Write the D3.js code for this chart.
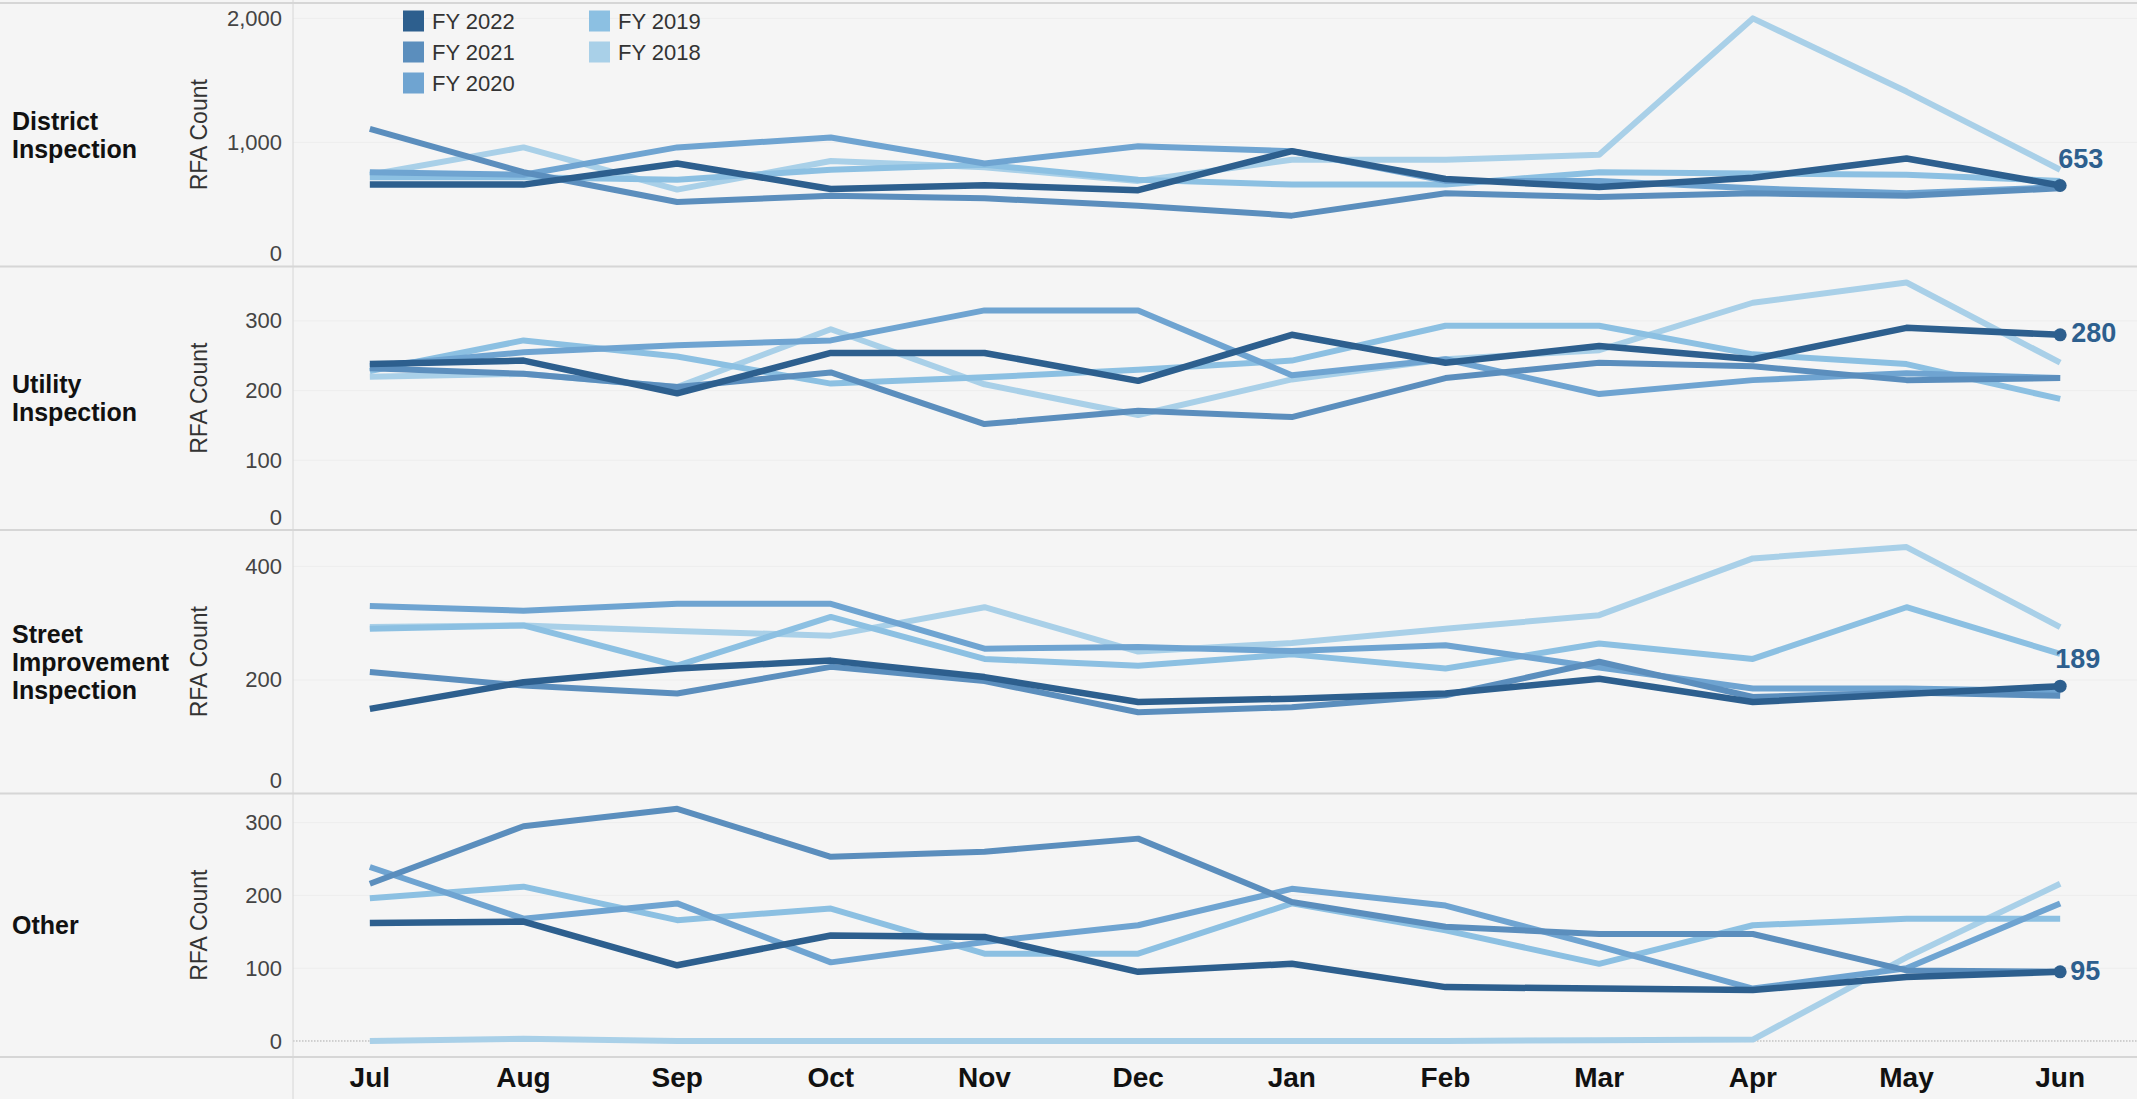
<!DOCTYPE html>
<html>
<head>
<meta charset="utf-8">
<script src="https://cdn.jsdelivr.net/npm/d3@7"></script>
<style>
body { margin: 0; background: #f5f5f5; }
svg { display: block; font-family: Arial, "Liberation Sans", sans-serif; }
</style>
</head>
<body>
<div id="chart"></div>
<script>
const width = 2137;
const height = 1099;

const months = ["Jul", "Aug", "Sep", "Oct", "Nov", "Dec", "Jan", "Feb", "Mar", "Apr", "May", "Jun"];
const years = ["FY 2022", "FY 2021", "FY 2020", "FY 2019", "FY 2018"];
const colors = ["#2d5f8e", "#5b8ebd", "#6fa4d1", "#8cc0e2", "#a9d0e8"];
const categories = [["District", "Inspection"], ["Utility", "Inspection"], ["Street", "Improvement", "Inspection"], ["Other"]];

// RFA counts, one row per fiscal year in the order of `years`
const district = [
    [660, 660, 830, 625, 655, 615, 930, 705, 640, 715, 870, 653],
    [1110, 760, 520, 570, 550, 490, 410, 590, 560, 590, 570, 630],
    [760, 740, 960, 1040, 830, 970, 930, 690, 690, 630, 590, 640],
    [720, 720, 700, 780, 820, 700, 660, 660, 760, 750, 740, 690],
    [740, 960, 620, 850, 800, 690, 860, 860, 900, 2000, 1410, 780]
];
const utility = [
    [238, 243, 196, 254, 254, 214, 280, 240, 264, 245, 290, 280],
    [232, 224, 205, 226, 152, 171, 162, 218, 240, 235, 215, 218],
    [235, 255, 265, 272, 315, 315, 222, 245, 195, 215, 225, 218],
    [228, 272, 249, 210, 219, 230, 243, 293, 293, 252, 238, 188],
    [220, 224, 205, 288, 209, 165, 216, 245, 258, 326, 355, 240]
];
const street = [
    [149, 196, 220, 234, 205, 161, 167, 176, 202, 161, 175, 189],
    [214, 190, 176, 223, 198, 143, 152, 173, 232, 170, 178, 172],
    [330, 322, 334, 334, 255, 258, 251, 261, 222, 185, 185, 180],
    [290, 296, 225, 311, 237, 225, 245, 220, 264, 237, 328, 246],
    [293, 296, 286, 278, 328, 250, 265, 290, 314, 414, 434, 293]
];
const other = [
    [162, 164, 104, 145, 143, 95, 106, 74, 72, 70, 88, 95],
    [216, 295, 319, 253, 260, 278, 191, 157, 147, 147, 97, 95],
    [239, 168, 189, 108, 136, 159, 209, 186, 130, 72, 100, 189],
    [196, 212, 166, 182, 120, 120, 189, 152, 106, 159, 168, 168],
    [0, 3, 0, 0, 0, 0, 0, 0, 1, 2, 115, 216]
];
const panelData = [district, utility, street, other];

const yDomains = [[0, 2124], [0, 378], [0, 464], [-22, 340]];
const yTicks = [[0, 1000, 2000], [0, 100, 200, 300], [0, 200, 400], [0, 100, 200, 300]];
const labelOffsets = [[-2, -27], [11, -2], [-5, -28], [10, -1]];

const paneLeft = 293;
const paneTop = 3;
const paneH = 263.5;

const svg = d3.select("#chart")
    .append("svg")
    .attr("width", width)
    .attr("height", height);

svg.append("rect")
    .attr("width", width)
    .attr("height", height)
    .attr("fill", "#f5f5f5");

const x = d3.scalePoint()
    .domain(months)
    .range([paneLeft, width])
    .padding(0.5);

const fmt = d3.format(",");

panelData.forEach((rows, p) => {
    const top = paneTop + p * paneH;
    const bottom = top + paneH;
    const y = d3.scaleLinear().domain(yDomains[p]).range([bottom, top]);
    const g = svg.append("g");

    // faint gridlines
    g.selectAll(".grid")
        .data(yTicks[p].filter(d => d > 0))
        .join("line")
        .attr("x1", paneLeft)
        .attr("x2", width)
        .attr("y1", d => y(d))
        .attr("y2", d => y(d))
        .attr("stroke", "#ededed")
        .attr("stroke-width", 1);

    if (yDomains[p][0] < 0) {
        g.append("line")
            .attr("x1", paneLeft)
            .attr("x2", width)
            .attr("y1", y(0))
            .attr("y2", y(0))
            .attr("stroke", "#aaa")
            .attr("stroke-width", 1)
            .attr("stroke-dasharray", "1.5,1.5");
    }

    const line = d3.line()
        .x((d, i) => x(months[i]))
        .y(d => y(d));

    // lightest year first so FY 2022 ends on top
    const order = d3.range(rows.length).reverse();
    g.selectAll(".series")
        .data(order)
        .join("path")
        .attr("d", k => line(rows[k]))
        .attr("fill", "none")
        .attr("stroke", k => colors[k])
        .attr("stroke-width", k => k === 0 ? 6.5 : 6)
        .attr("stroke-linejoin", "round");

    const last = rows[0][months.length - 1];
    g.append("circle")
        .attr("cx", x("Jun"))
        .attr("cy", y(last))
        .attr("r", 6.5)
        .attr("fill", colors[0]);

    g.append("text")
        .attr("x", x("Jun") + labelOffsets[p][0])
        .attr("y", y(last) + labelOffsets[p][1])
        .attr("dy", "0.35em")
        .attr("font-size", 27)
        .attr("font-weight", "bold")
        .attr("fill", "#2d5f8e")
        .text(fmt(last));

    // y axis labels
    const axis = g.append("g")
        .attr("transform", `translate(285,0)`)
        .call(d3.axisLeft(y).tickValues(yTicks[p]).tickSize(0).tickPadding(3).tickFormat(fmt));
    axis.select(".domain").remove();
    axis.selectAll("text")
        .attr("font-size", 22)
        .attr("font-family", "Arial, 'Liberation Sans', sans-serif")
        .attr("fill", "#444")
        .attr("y", d => Math.min(0, bottom - 13 - y(d)));

    g.append("text")
        .attr("transform", `translate(199,${(top + bottom) / 2}) rotate(-90)`)
        .attr("text-anchor", "middle")
        .attr("dy", "0.35em")
        .attr("font-size", 23)
        .attr("fill", "#333")
        .text("RFA Count");

    const lines = categories[p];
    const lh = 28;
    g.append("text")
        .attr("x", 12)
        .attr("y", (top + bottom) / 2 - (lines.length - 1) * lh / 2)
        .attr("font-size", 25)
        .attr("font-weight", "bold")
        .attr("fill", "#111")
        .selectAll("tspan")
        .data(lines)
        .join("tspan")
        .attr("x", 12)
        .attr("dy", (d, i) => i === 0 ? "0.35em" : lh)
        .text(d => d);
});

// panel borders
svg.selectAll(".sep")
    .data(d3.range(panelData.length + 1))
    .join("line")
    .attr("x1", 0)
    .attr("x2", width)
    .attr("y1", i => paneTop + i * paneH)
    .attr("y2", i => paneTop + i * paneH)
    .attr("stroke", "#d6d6d6")
    .attr("stroke-width", 2);

svg.append("line")
    .attr("x1", paneLeft)
    .attr("x2", paneLeft)
    .attr("y1", 0)
    .attr("y2", height)
    .attr("stroke", "#d6d6d6")
    .attr("stroke-width", 1);

// month labels
svg.selectAll(".month")
    .data(months)
    .join("text")
    .attr("x", d => x(d))
    .attr("y", 1077)
    .attr("dy", "0.35em")
    .attr("text-anchor", "middle")
    .attr("font-size", 28)
    .attr("font-weight", "bold")
    .attr("fill", "#111")
    .text(d => d);

// legend
const legend = svg.append("g");
const items = legend.selectAll(".item")
    .data(years)
    .join("g")
    .attr("transform", (d, i) => `translate(${i < 3 ? 403 : 589},${21 + (i % 3) * 31})`);
items.append("rect")
    .attr("x", 0)
    .attr("y", -10.5)
    .attr("width", 21)
    .attr("height", 21)
    .attr("fill", (d, i) => colors[i]);
items.append("text")
    .attr("x", 29)
    .attr("dy", "0.35em")
    .attr("font-size", 22)
    .attr("fill", "#333")
    .text(d => d);
</script>
</body>
</html>
